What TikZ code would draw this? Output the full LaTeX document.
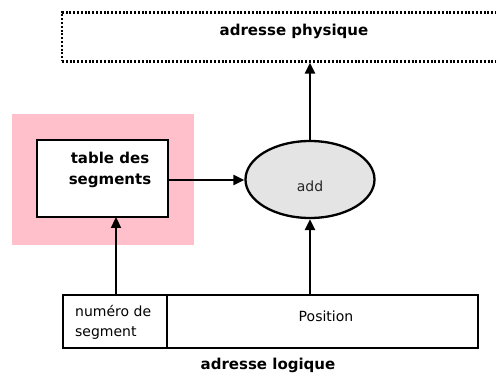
\documentclass[tikz,border=0pt]{standalone}
\usepackage{fontspec}
\setmainfont{DejaVu Sans}
\usetikzlibrary{arrows.meta,shapes.geometric}
\definecolor{pinkc}{RGB}{255,192,203}
\definecolor{grayc}{RGB}{228,228,228}
\tikzset{
  box/.style={draw=black, line width=2.3pt, rectangle, inner sep=0pt},
  arr/.style={line width=2.3pt, -{Triangle[length=11pt,width=10pt]}},
  lbl/.style={inner sep=0pt, align=center},
  bold/.style={font=\fontsize{15}{21}\selectfont\bfseries},
}
\begin{document}
\begin{tikzpicture}[x=1pt,y=-1pt, font=\fontsize{14}{20}\selectfont]
\clip (0,0) rectangle (496,377);
% dotted box (extends beyond right edge)
\node[draw=black, line width=2.2pt, dash pattern=on 2pt off 1.8pt, rectangle, inner sep=0pt,
      minimum width=478pt, minimum height=49pt] (phys) at (301,37) {};
\node[lbl, bold] (physt) at (294,31) {adresse physique};
% pink background
\node[fill=pinkc, rectangle, inner sep=0pt, minimum width=182pt, minimum height=131pt] (pink) at (103,179.5) {};
% table
\node[box, fill=white, minimum width=131pt, minimum height=77pt] (tab) at (102.5,178.5) {};
\node[lbl, bold] (tabt) at (110,170) {table des\\segments};
% ellipse
\node[draw=black, line width=2.3pt, ellipse, fill=grayc, inner sep=0pt,
      minimum width=129pt, minimum height=77pt] (add) at (310,179.5) {};
\node[lbl, text=black!85] (addt) at (310,186) {add};
% bottom boxes
\node[box, minimum width=104pt, minimum height=53pt] (num) at (115,321.5) {};
\node[box, minimum width=311pt, minimum height=53pt] (pos) at (322.5,321.5) {};
\node[lbl, align=left, anchor=west] (numt) at (75,322) {numéro de\\segment};
\node[lbl] (post) at (326,316) {Position};
\node[lbl, bold] (logt) at (268,365) {adresse logique};
% connector anchor points
\coordinate (ts) at (116,217);
\coordinate (tsb) at (116,295);
\coordinate (te) at (168,180);
% arrows
\draw[arr] (te) -- (te -| add.west);
\draw[arr] (add.north) -- (add.north |- phys.south);
\draw[arr] (tsb) -- (ts);
\draw[arr] (add.south |- pos.north) -- (add.south);
\end{tikzpicture}
\end{document}
